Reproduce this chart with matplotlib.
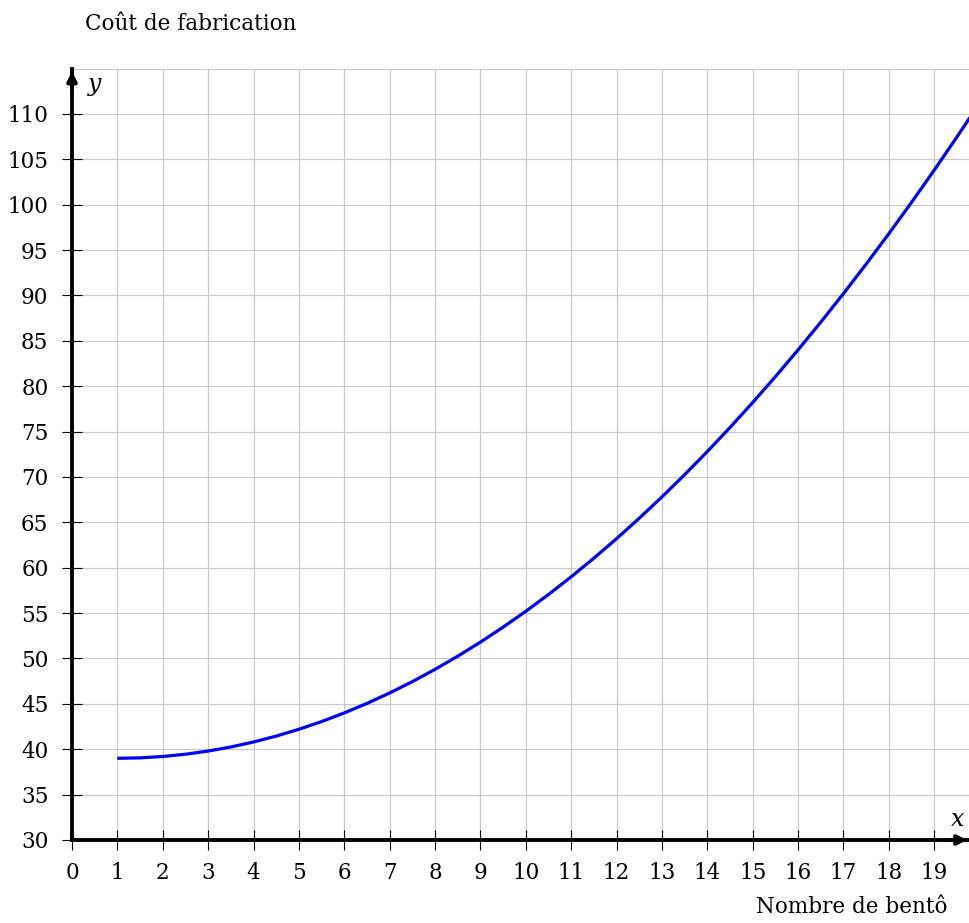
import numpy as np
import matplotlib.pyplot as plt

# valeurs (coût en fonction du nombre de bentô)
bento = [1, 1.5, 2, 2.5, 3, 3.5, 4, 4.5, 5, 5.5, 6, 6.5, 7, 7.5, 8, 8.5, 9, 9.5,
         10, 10.5, 11, 11.5, 12, 12.5, 13, 13.5, 14, 14.5, 15, 15.5, 16, 16.5,
         17, 17.5, 18, 18.5, 19, 19.5, 19.8]
cout = [39.0, 39.05, 39.2, 39.45, 39.8, 40.25, 40.8, 41.45, 42.2, 43.05, 44.0,
        45.05, 46.2, 47.45, 48.8, 50.25, 51.8, 53.45, 55.2, 57.05, 59.0, 61.05,
        63.2, 65.45, 67.8, 70.25, 72.8, 75.45, 78.2, 81.05, 84.0, 87.05, 90.2,
        93.45, 96.8, 100.25, 103.8, 107.45, 109.7]

x_ticks = list(range(0, 20))
y_ticks = list(range(30, 115, 5))

plt.rcParams["font.family"] = "DejaVu Serif"

W, H = 970, 923
fig = plt.figure(figsize=(W / 100, H / 100), dpi=100)
ax = fig.add_axes([72 / W, (H - 840) / H, (W - 72) / W, (840 - 68.6) / H])

xmax = 19.79
ax.set_xlim(0, xmax)
ax.set_ylim(30, 115)

# grille
for xv in range(1, 20):
    ax.axvline(xv, color="#c8c8c8", lw=0.9, zorder=0)
for yv in range(35, 116, 5):
    ax.axhline(yv, color="#c8c8c8", lw=0.9, zorder=0)

ax.plot(bento, cout, color="#0000ff", lw=2.3, zorder=3, solid_capstyle="butt")

for s in ["top", "right"]:
    ax.spines[s].set_visible(False)
for s in ["left", "bottom"]:
    ax.spines[s].set_linewidth(2.8)
    ax.spines[s].set_zorder(4)

ax.set_xticks(x_ticks)
ax.set_yticks(y_ticks)
ax.tick_params(axis="both", direction="inout", length=15, width=0.8, labelsize=15.5)
ax.tick_params(axis="y", pad=9.5)
ax.tick_params(axis="x", pad=8)

# flèches
ax.annotate("", xy=(1.0, 0), xytext=(0.97, 0), xycoords="axes fraction",
            arrowprops=dict(arrowstyle="-|>", color="black", lw=2.8, mutation_scale=14),
            annotation_clip=False)
ax.annotate("", xy=(0, 1.0), xytext=(0, 0.97), xycoords="axes fraction",
            arrowprops=dict(arrowstyle="-|>", color="black", lw=2.8, mutation_scale=14),
            annotation_clip=False)

fig.text(88 / W, 1 - 84 / H, "y", fontsize=17, style="italic", ha="left", va="center")
fig.text(958 / W, 1 - 819 / H, "x", fontsize=17, style="italic", ha="center", va="center")
fig.text(85 / W, 1 - 24 / H, "Coût de fabrication", fontsize=15.5, ha="left", va="center")
fig.text(948 / W, 1 - 907 / H, "Nombre de bentô", fontsize=15.5, ha="right", va="center")

fig.savefig("out.png", dpi=100)
